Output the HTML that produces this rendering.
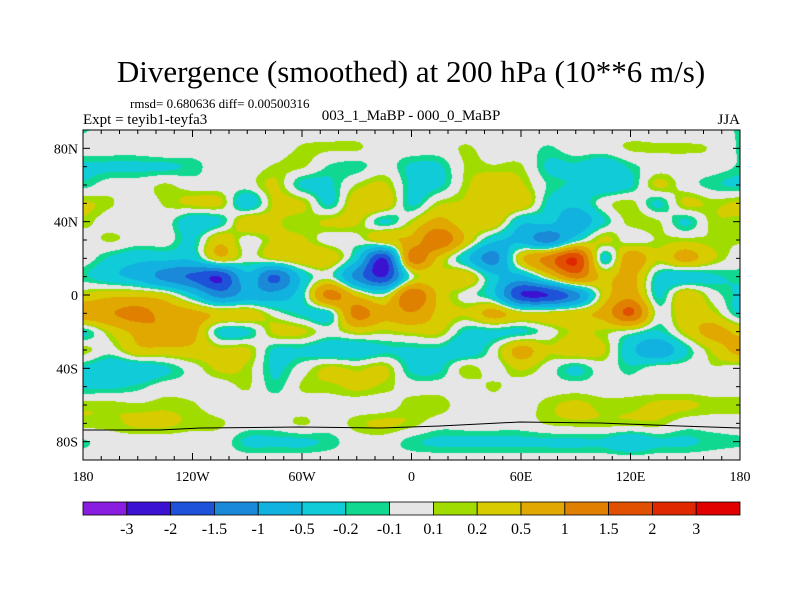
<!DOCTYPE html>
<html><head><meta charset="utf-8">
<style>
body{margin:0;background:#fff;width:800px;height:600px;overflow:hidden;position:relative;font-family:"Liberation Serif",serif;}
#map{position:absolute;left:83px;top:130px;}
svg{position:absolute;left:0;top:0;font-family:"Liberation Serif",serif;}
svg text{font-family:"Liberation Serif",serif;}
</style></head><body>
<canvas id="map" width="657" height="330"></canvas>
<svg id="ov" width="800" height="600">
<text x="411" y="82" font-size="31" text-anchor="middle">Divergence (smoothed) at 200 hPa (10**6 m/s)</text>
<text x="130" y="108" font-size="13">rmsd= 0.680636 diff= 0.00500316</text>
<text x="83" y="124" font-size="15">Expt = teyib1-teyfa3</text>
<text x="411" y="120" font-size="15" text-anchor="middle">003_1_MaBP - 000_0_MaBP</text>
<text x="740" y="124" font-size="15" text-anchor="end">JJA</text>
<polyline points="83,430 160,430 200,428 300,427 380,428 440,426 520,422 600,423 680,426 740,428" fill="none" stroke="#000" stroke-width="1"/>
<g id="axes"></g>
<g id="cbar"></g>
</svg>
<script>
const lons=[-180,-165,-150,-135,-120,-105,-90,-75,-60,-45,-30,-15,0,15,30,45,60,75,90,105,120,135,150,165,180];
const lats=[90,80,70,60,50,40,30,20,10,0,-10,-20,-30,-40,-50,-60,-70,-80,-90];
const r90=[-0.15,0,0,0,0,0,0,0,0,0,0,0,0,0,0,0,0,0,0,0,0,0,0,0,-0.15];
const r80=[0,0,0,0.1,0,0,0,0,0.15,0.15,0.15,0,0,0,0.15,0,0,-0.15,0,0,0.15,0.15,0.15,0.1,-0.15];
const r70=[-0.3,-0.3,-0.3,-0.3,-0.2,0,0,0.15,0.15,-0.15,-0.2,0,-0.3,-0.3,0.15,0.15,0.15,-0.3,-0.3,-0.5,-0.2,0,0,0,-0.15];
const r60=[-0.2,0,0,0.15,0,0,0,0.3,-0.3,-0.3,0.15,0.3,-0.3,-0.3,0.2,0.5,0.3,-0.15,-0.3,-0.5,-0.3,0.3,0,-0.2,-0.3];
const r50=[0.3,0.15,0,0.15,0.3,0.3,-0.5,0.3,0.3,-0.3,0.5,0.5,-0.3,0.2,0.3,0.5,0.5,-0.3,-0.5,0,0.2,-0.3,0.3,0.2,0.3];
const r40=[0.2,0,0,0,-0.5,-0.3,0.5,0.3,0.15,0.3,0.3,-0.3,0.2,0.8,0.3,0.5,-0.5,-0.5,-1,-0.3,0.2,0.15,-0.3,0.2,0.2];
const r30=[0,0.15,0,0,-0.3,0.5,0,0.3,0.3,0,0,0.5,0.8,1.8,0.5,-0.5,-0.8,-1.5,-0.3,0.3,0,0.15,0.2,0.15,0.15];
const r20=[0,-0.3,-0.5,-0.5,-0.5,0.5,0,0.3,0.5,0.5,-0.5,-2.5,1.5,0.5,-0.5,-1.5,0.5,1.5,2.5,-0.3,1,0.3,0.8,0.3,0];
const r10=[-0.2,-0.5,-0.8,-1.5,-2,-2.5,-0.8,-2,-0.5,0,-1.5,-2.5,0,0.3,0.5,-0.5,-0.8,0.3,1.5,0.5,0.8,-0.3,-0.5,-0.3,-0.2];
const r0=[0.3,0.5,0.5,0.3,-0.5,-1.5,-1,-1,-0.3,1.5,0.5,0,1.8,0.5,0,-0.5,-2.5,-2.5,-1.5,0.3,1,-0.3,0.5,0,-0.3];
const rS10=[1,1.2,1.5,1,0.8,0.5,0.5,0,-0.3,-0.3,1.5,0.8,1.2,0.5,0.3,0.8,0.3,0.3,0.5,0.8,2,0,0.5,0.3,-0.3];
const rS20=[-0.3,0.3,0.8,1.2,0.8,-0.3,-0.3,0.3,0.3,0,0.3,0.2,0.3,0.3,-0.3,-0.3,-0.3,0,0.3,0.2,0,-0.3,0.3,0.8,0.5];
const rS30=[0.2,0,0.5,0.5,0.5,0.3,0.3,-0.3,-0.3,-0.5,-0.5,-0.3,-0.3,-0.3,-0.5,0,0.8,0.3,0.5,0.3,-0.5,-1,-0.3,0.3,0.8];
const rS40=[-0.3,-0.5,-0.5,-0.3,0,0.3,0.2,-0.3,0,0.3,0.2,0.3,-0.3,-0.3,0.2,0,0.3,0,-0.3,0,-0.2,0,0,0.1,0];
const rS50=[-0.3,-0.3,-0.2,0,0,0,0.15,-0.2,0.15,0.2,0.3,0.2,0,0,0,0.15,0,0,0,0,0,0,0,0,0];
const rS60=[0.2,0.2,0.15,0.2,0.15,0,0,0,0,0,0,0,0.2,0.2,0,0,0,0.2,0.3,0.2,0.2,0.3,0.3,0.2,0.2];
const rS70=[0.2,0.2,0.3,0.3,0.2,0.15,0,0,0.15,0,0.2,0.3,0.2,0,0,0,0,0.15,0.2,0.2,0.2,0.2,0,0,0];
const rS80=[-0.15,0,0,0,0,0,-0.3,-0.3,-0.3,-0.2,0,0,-0.2,-0.3,-0.3,-0.3,-0.3,-0.3,-0.3,-0.3,-0.5,-0.3,-0.3,-0.2,-0.15];
const rS90=[0,0,0,0,0,0,0,0,0,0,0,0,0,0,0,0,0,0,0,0,0,0,0,0,0];
const grid=[r90,r80,r70,r60,r50,r40,r30,r20,r10,r0,rS10,rS20,rS30,rS40,rS50,rS60,rS70,rS80,rS90];
const levels=[-3,-2,-1.5,-1,-0.5,-0.2,-0.1,0.1,0.2,0.5,1,1.5,2,3];
const levelLabels=["-3","-2","-1.5","-1","-0.5","-0.2","-0.1","0.1","0.2","0.5","1","1.5","2","3"];
const colors=["#8a1ee0","#3c12d2","#1e52d8","#1a8ad8","#12b2e0","#10ccd8","#10d890","#e6e6e6","#a0dc00","#d6cc00","#e0a800","#e08000","#e05000","#e02800","#e00000"];

const X0=83,X1=740,Y0=130,Y1=460;
const xs=lon=>X0+(lon+180)/360*(X1-X0);
const ys=lat=>Y0+(90-lat)/180*(Y1-Y0);

function cr(p0,p1,p2,p3,t){return 0.5*((2*p1)+(-p0+p2)*t+(2*p0-5*p1+4*p2-p3)*t*t+(-p0+3*p1-3*p2+p3)*t*t*t);}
function g(i,j){i=Math.max(0,Math.min(lats.length-1,i));j=Math.max(0,Math.min(lons.length-1,j));return grid[i][j];}
function val(lon,lat){
  const fj=(lon-lons[0])/(lons[1]-lons[0]), fi=(lats[0]-lat)/(lats[0]-lats[1]);
  const j=Math.min(lons.length-2,Math.floor(fj)), i=Math.min(lats.length-2,Math.floor(fi));
  const tx=fj-j, ty=fi-i, r=[];
  for(let k=-1;k<3;k++) r.push(cr(g(i+k,j-1),g(i+k,j),g(i+k,j+1),g(i+k,j+2),tx));
  return 0.8*cr(r[0],r[1],r[2],r[3],ty);
}
function hex(c){return [parseInt(c.slice(1,3),16),parseInt(c.slice(3,5),16),parseInt(c.slice(5,7),16)];}
const rgb=colors.map(hex);
const cv=document.getElementById('map'),ctx=cv.getContext('2d');
const W=cv.width,H=cv.height,img=ctx.createImageData(W,H);
for(let y=0;y<H;y++)for(let x=0;x<W;x++){
  const lon=-180+(x+0.5)/W*360, lat=90-(y+0.5)/H*180;
  const v=val(lon,lat);let k=0;while(k<levels.length&&v>=levels[k])k++;
  const c=rgb[k],o=(y*W+x)*4;img.data[o]=c[0];img.data[o+1]=c[1];img.data[o+2]=c[2];img.data[o+3]=255;
}
ctx.putImageData(img,0,0);

const NS='http://www.w3.org/2000/svg';
function mk(tag,attrs,parent){const e=document.createElementNS(NS,tag);for(const k in attrs)e.setAttribute(k,attrs[k]);parent.appendChild(e);return e;}
const ax=document.getElementById('axes');
const frame=mk('rect',{x:X0,y:Y0,width:X1-X0,height:Y1-Y0,fill:'none',stroke:'#000','stroke-width':1},ax);


const xTicks=[-180,-120,-60,0,60,120,180];
const xTickLabels=["180","120W","60W","0","60E","120E","180"];
const yTicks=[80,40,0,-40,-80];
const yTickLabels=["80N","40N","0","40S","80S"];
for(let lon=-180;lon<=180;lon+=10){
  const major=lon%60===0,L=major?7:4,x=xs(lon);
  mk('line',{x1:x,y1:Y1,x2:x,y2:Y1-L,stroke:'#000'},ax);
  mk('line',{x1:x,y1:Y0,x2:x,y2:Y0+L,stroke:'#000'},ax);
}
for(let lat=-80;lat<=80;lat+=10){
  const major=lat%40===0,L=major?7:4,y=ys(lat);
  mk('line',{x1:X0,y1:y,x2:X0+L,y2:y,stroke:'#000'},ax);
  mk('line',{x1:X1,y1:y,x2:X1-L,y2:y,stroke:'#000'},ax);
}
xTicks.forEach((t,i)=>{const e=mk('text',{x:xs(t),y:481,'font-size':14,'text-anchor':'middle'},ax);e.textContent=xTickLabels[i];

});
yTicks.forEach((t,i)=>{const e=mk('text',{x:X0-5,y:ys(t)+5,'font-size':14,'text-anchor':'end'},ax);e.textContent=yTickLabels[i];

});

const cb=document.getElementById('cbar');
const bw=(X1-X0)/colors.length;
colors.forEach((c,i)=>{const r=mk('rect',{x:X0+i*bw,y:502,width:bw,height:13,fill:c,stroke:'#000','stroke-width':0.8},cb);

});
levelLabels.forEach((l,i)=>{const e=mk('text',{x:X0+(i+1)*bw,y:534,'font-size':16,'text-anchor':'middle'},cb);e.textContent=l;

});
</script>
</body></html>
